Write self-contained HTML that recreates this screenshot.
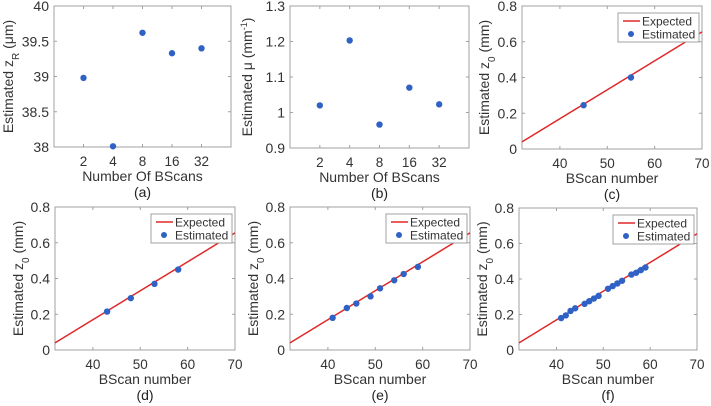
<!DOCTYPE html>
<html><head><meta charset="utf-8">
<style>
html,body{margin:0;padding:0;background:#fff;}
svg{display:block;font-family:"Liberation Sans","DejaVu Sans",sans-serif;}
</style></head>
<body>
<svg id="fig" width="711" height="406" viewBox="0 0 711 406"></svg>
<script>
// ---- data ----
const bscanCategories = ["2","4","8","16","32"];
const zRValues = [38.98, 38.01, 39.62, 39.33, 39.40];
const muValues = [1.02, 1.203, 0.966, 1.07, 1.023];
const zRTicks = [38, 38.5, 39, 39.5, 40];
const zRTickLabels = ["38","38.5","39","39.5","40"];
const muTicks = [0.9, 1.0, 1.1, 1.2, 1.3];
const muTickLabels = ["0.9","1","1.1","1.2","1.3"];
const cScans = [45, 55];
const cZ0 = [0.245, 0.40];
const dScans = [43, 48, 53, 58];
const dZ0 = [0.215, 0.29, 0.37, 0.45];
const eScans = [41, 44, 46, 49, 51, 54, 56, 59];
const eZ0 = [0.18, 0.235, 0.26, 0.30, 0.345, 0.39, 0.425, 0.465];
const fScans = [41, 42, 43, 44, 46, 47, 48, 49, 51, 52, 53, 54, 56, 57, 58, 59];
const fZ0 = [0.18, 0.195, 0.22, 0.235, 0.26, 0.275, 0.29, 0.305, 0.345, 0.36, 0.375, 0.39, 0.425, 0.435, 0.45, 0.465];
const expectedLeft = [0.04];
const expectedRight = [0.655];
const z0Ticks = [0, 0.2, 0.4, 0.6, 0.8];
const z0TickLabels = ["0","0.2","0.4","0.6","0.8"];
const scanTicks = [40, 50, 60, 70];
const scanTickLabels = ["40","50","60","70"];

const NS = "http://www.w3.org/2000/svg";
const svg = document.getElementById("fig");
function mk(tag, attrs, parent){
  const e = document.createElementNS(NS, tag);
  for (const k in attrs) e.setAttribute(k, attrs[k]);
  (parent||svg).appendChild(e);
  return e;
}
function txt(s, attrs, parent){ const t = mk("text", attrs, parent); t.textContent = s; return t; }

function panel(o){
  const g = mk("g", {});
  
  
  const L=o.box[0], T=o.box[1], R=o.box[2], B=o.box[3];
  const sx = v => L + (v - o.xlim[0]) / (o.xlim[1]-o.xlim[0]) * (R-L);
  const sy = v => B - (v - o.ylim[0]) / (o.ylim[1]-o.ylim[0]) * (B-T);
  const box = mk("rect", {x:L, y:T, width:R-L, height:B-T, fill:"none", stroke:"#a0a0a0", "stroke-width":1}, g);
  
  
  o.yTicks.forEach((v,i)=>{
    const y = sy(v);
    mk("line", {x1:L, x2:L+3, y1:y, y2:y, stroke:"#a0a0a0"}, g);
    mk("line", {x1:R, x2:R-3, y1:y, y2:y, stroke:"#a0a0a0"}, g);
    const t = txt(o.yLabels[i], {x:L-5, y:y+5, "text-anchor":"end", "font-size":14, fill:"#333"}, g);
    
    
  });
  o.xTicks.forEach((v,i)=>{
    const x = sx(v);
    mk("line", {x1:x, x2:x, y1:B, y2:B-3, stroke:"#a0a0a0"}, g);
    mk("line", {x1:x, x2:x, y1:T, y2:T+3, stroke:"#a0a0a0"}, g);
    const t = txt(o.xLabels[i], {x:x, y:B+19, "text-anchor":"middle", "font-size":13.5, fill:"#333"}, g);
    
    
  });
  const xt = txt(o.xTitle, {x:(L+R)/2, y:B+34, "text-anchor":"middle", "font-size":14, fill:"#333"}, g);
  
  
  const cap = txt(o.caption, {x:(L+R)/2, y:B+50, "text-anchor":"middle", "font-size":14, fill:"#222"}, g);
  
  
  const yt = mk("text", {x:0, y:0, transform:`translate(${o.yTitleX},${(T+B)/2}) rotate(-90)`, "text-anchor":"middle", "font-size":14, fill:"#333"}, g);
  yt.innerHTML = o.yTitle;
  
  
  if (o.expected){
    const ln = mk("line", {x1:sx(o.xlim[0]), y1:sy(expectedLeft[0]), x2:sx(o.xlim[1]), y2:sy(expectedRight[0]), stroke:"#e02828", "stroke-width":1.5}, g);
    
    
  }
  o.xs.forEach((xv,i)=>{
    const c = mk("circle", {cx:sx(xv), cy:sy(o.ys[i]), r:3.2, fill:"#2f62c4"}, g);
    
    
  });
  if (o.legend){
    const lg = mk("g", {}, g);
    
    
    const lx = R-84, ly = T+7;
    mk("rect", {x:lx, y:ly, width:81, height:29, fill:"#fff", stroke:"#a0a0a0"}, lg);
    mk("line", {x1:lx+5, x2:lx+22, y1:ly+8, y2:ly+8, stroke:"#e02828", "stroke-width":1.5}, lg);
    const t1 = txt("Expected", {x:lx+24, y:ly+12.5, "font-size":12, fill:"#333"}, lg);
    
    
    mk("circle", {cx:lx+13, cy:ly+21, r:3, fill:"#2f62c4"}, lg);
    const t2 = txt("Estimated", {x:lx+24, y:ly+25.5, "font-size":12, fill:"#333"}, lg);
    
    
  }
}
const catPos = bscanCategories.map((c,i)=>i+1);
const z0Title = 'Estimated z<tspan baseline-shift="sub" font-size="10">0</tspan> (mm)';
panel({name:"panel-a", box:[54,6,231,147], xlim:[0,6], ylim:[38,40], xTicks:catPos, xLabels:bscanCategories, yTicks:zRTicks, yLabels:zRTickLabels, xs:catPos, ys:zRValues, xTitle:"Number Of BScans", caption:"(a)", yTitleX:13, yTitle:'Estimated z<tspan baseline-shift="sub" font-size="10">R</tspan> (μm)'});
panel({name:"panel-b", box:[290,6,469,148], xlim:[0,6], ylim:[0.9,1.3], xTicks:catPos, xLabels:bscanCategories, yTicks:muTicks, yLabels:muTickLabels, xs:catPos, ys:muValues, xTitle:"Number Of BScans", caption:"(b)", yTitleX:252, yTitle:'Estimated μ (mm<tspan baseline-shift="super" font-size="9">-1</tspan>)'});
panel({name:"panel-c", box:[522,6,702,149], xlim:[32,70], ylim:[0,0.8], xTicks:scanTicks, xLabels:scanTickLabels, yTicks:z0Ticks, yLabels:z0TickLabels, xs:cScans, ys:cZ0, xTitle:"BScan number", caption:"(c)", yTitleX:489, yTitle:z0Title, expected:true, legend:true});
panel({name:"panel-d", box:[55,207,235,350], xlim:[32,70], ylim:[0,0.8], xTicks:scanTicks, xLabels:scanTickLabels, yTicks:z0Ticks, yLabels:z0TickLabels, xs:dScans, ys:dZ0, xTitle:"BScan number", caption:"(d)", yTitleX:23, yTitle:z0Title, expected:true, legend:true});
panel({name:"panel-e", box:[290,207,470,350], xlim:[32,70], ylim:[0,0.8], xTicks:scanTicks, xLabels:scanTickLabels, yTicks:z0Ticks, yLabels:z0TickLabels, xs:eScans, ys:eZ0, xTitle:"BScan number", caption:"(e)", yTitleX:258, yTitle:z0Title, expected:true, legend:true});
panel({name:"panel-f", box:[519,208,697,350], xlim:[32,70], ylim:[0,0.8], xTicks:scanTicks, xLabels:scanTickLabels, yTicks:z0Ticks, yLabels:z0TickLabels, xs:fScans, ys:fZ0, xTitle:"BScan number", caption:"(f)", yTitleX:487, yTitle:z0Title, expected:true, legend:true});
</script>
</body></html>
